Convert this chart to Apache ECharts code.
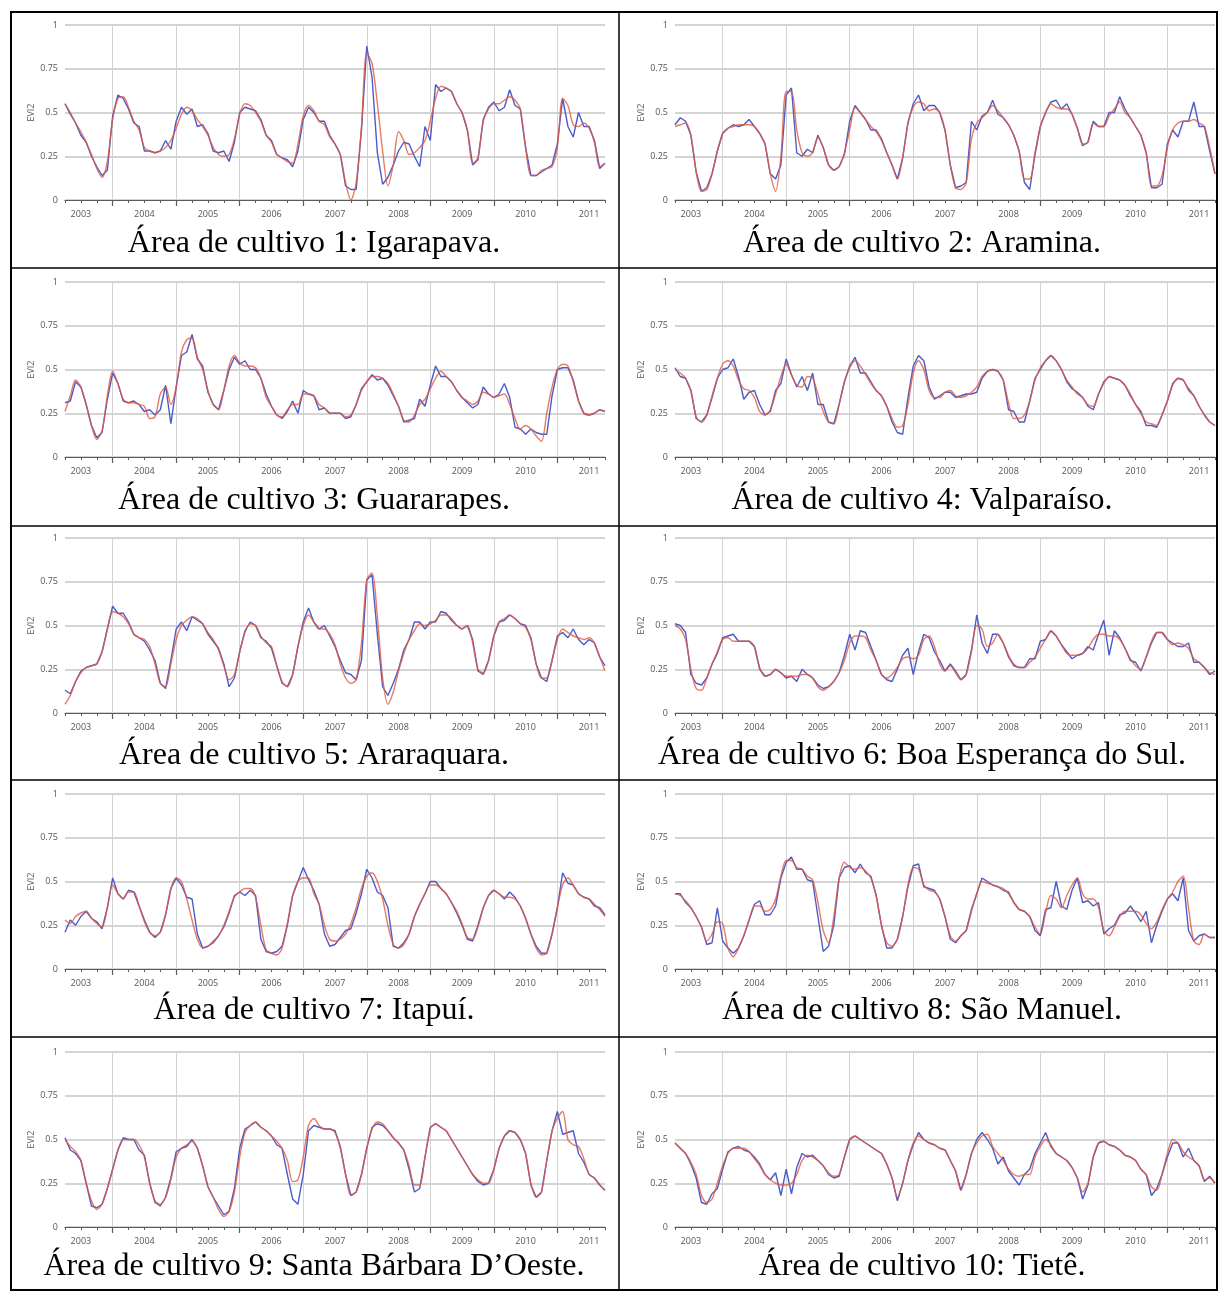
<!DOCTYPE html>
<html>
<head>
<meta charset="utf-8">
<title>EVI2 - áreas de cultivo</title>
<script src="https://cdn.jsdelivr.net/npm/echarts@6/dist/echarts.min.js"></script>
<style>
  html, body { margin: 0; padding: 0; background: #fff; }
  #chart { width: 1219px; height: 1291px; }
</style>
</head>
<body>
<div id="chart"></div>
<script>
// eixo do tempo: meses de abr/2003 a out/2011
const years = [2003, 2004, 2005, 2006, 2007, 2008, 2009, 2010, 2011];
const months = [];
years.forEach(y => {
  for (let m = 1; m <= 12; m++) {
    if (y === 2003 && m < 4) continue;
    if (y === 2011 && m > 10) continue;
    months.push(y + '-' + String(m).padStart(2, '0'));
  }
});

// EVI2 por área (azul = série original, vermelho = série suavizada)
const igarapavaBlue = [
  0.55, 0.49, 0.44, 0.37, 0.33, 0.25, 0.19, 0.14, 0.17,
  0.48, 0.60, 0.58, 0.52, 0.44, 0.42, 0.28, 0.28, 0.27, 0.28, 0.34, 0.29,
  0.45, 0.53, 0.49, 0.52, 0.42, 0.43, 0.38, 0.28, 0.27, 0.28, 0.22, 0.33,
  0.50, 0.53, 0.52, 0.51, 0.46, 0.37, 0.34, 0.26, 0.24, 0.23, 0.19, 0.28,
  0.46, 0.53, 0.50, 0.45, 0.45, 0.37, 0.32, 0.26, 0.08, 0.06, 0.06, 0.40,
  0.88, 0.70, 0.27, 0.09, 0.13, 0.20, 0.28, 0.33, 0.32, 0.25, 0.19, 0.42,
  0.34, 0.66, 0.62, 0.64, 0.62, 0.55, 0.50, 0.40, 0.20, 0.23, 0.46, 0.53,
  0.56, 0.51, 0.53, 0.63, 0.54, 0.52, 0.30, 0.14, 0.14, 0.16, 0.18, 0.20,
  0.32, 0.58, 0.42, 0.36, 0.50, 0.42, 0.42, 0.34, 0.18, 0.21
];
const igarapavaRed = [
  0.55, 0.50, 0.44, 0.39, 0.33, 0.26, 0.18, 0.13, 0.22,
  0.46, 0.58, 0.59, 0.53, 0.45, 0.40, 0.30, 0.28, 0.27, 0.28, 0.30, 0.34,
  0.41, 0.49, 0.53, 0.51, 0.46, 0.42, 0.37, 0.30, 0.26, 0.25, 0.26, 0.35,
  0.49, 0.55, 0.54, 0.50, 0.45, 0.37, 0.33, 0.26, 0.24, 0.22, 0.21, 0.32,
  0.48, 0.54, 0.51, 0.45, 0.43, 0.36, 0.32, 0.26, 0.10, 0.00, 0.10, 0.42,
  0.84, 0.78, 0.55, 0.28, 0.08, 0.20, 0.39, 0.34, 0.26, 0.27, 0.30, 0.34,
  0.45, 0.58, 0.65, 0.64, 0.62, 0.55, 0.50, 0.40, 0.21, 0.24, 0.45, 0.52,
  0.55, 0.55, 0.57, 0.59, 0.57, 0.52, 0.30, 0.14, 0.14, 0.17, 0.18, 0.19,
  0.30, 0.58, 0.54, 0.43, 0.42, 0.44, 0.41, 0.33, 0.19, 0.21
];
const araminaBlue = [
  0.43, 0.47, 0.45, 0.37, 0.16, 0.05, 0.07, 0.15, 0.28,
  0.38, 0.41, 0.43, 0.42, 0.43, 0.46, 0.42, 0.38, 0.32, 0.15, 0.12, 0.20,
  0.60, 0.64, 0.27, 0.25, 0.29, 0.27, 0.37, 0.30, 0.20, 0.17, 0.19, 0.26,
  0.45, 0.54, 0.50, 0.46, 0.40, 0.40, 0.35, 0.27, 0.20, 0.12, 0.24, 0.44,
  0.55, 0.60, 0.51, 0.54, 0.54, 0.50, 0.40, 0.20, 0.07, 0.08, 0.10, 0.45,
  0.40, 0.48, 0.50, 0.57, 0.49, 0.47, 0.43, 0.37, 0.28, 0.10, 0.06, 0.26,
  0.42, 0.50, 0.56, 0.57, 0.52, 0.55, 0.49, 0.41, 0.31, 0.33, 0.45, 0.42,
  0.42, 0.50, 0.50, 0.59, 0.52, 0.47, 0.42, 0.37, 0.27, 0.07, 0.07, 0.09,
  0.32, 0.40, 0.36, 0.45, 0.45, 0.56, 0.42, 0.42, 0.28, 0.15
];
const araminaRed = [
  0.42, 0.43, 0.44, 0.37, 0.16, 0.05, 0.06, 0.15, 0.28,
  0.38, 0.41, 0.42, 0.43, 0.43, 0.43, 0.42, 0.38, 0.32, 0.15, 0.05, 0.25,
  0.62, 0.62, 0.40, 0.27, 0.25, 0.27, 0.36, 0.30, 0.20, 0.17, 0.19, 0.27,
  0.40, 0.53, 0.50, 0.46, 0.42, 0.39, 0.34, 0.27, 0.20, 0.12, 0.24, 0.44,
  0.53, 0.56, 0.55, 0.51, 0.52, 0.50, 0.40, 0.20, 0.07, 0.06, 0.10, 0.35,
  0.44, 0.47, 0.50, 0.54, 0.51, 0.47, 0.43, 0.37, 0.28, 0.12, 0.12, 0.27,
  0.42, 0.50, 0.55, 0.53, 0.52, 0.52, 0.49, 0.41, 0.32, 0.33, 0.44, 0.42,
  0.42, 0.48, 0.52, 0.56, 0.50, 0.47, 0.42, 0.37, 0.27, 0.08, 0.08, 0.14,
  0.30, 0.40, 0.44, 0.45, 0.45, 0.46, 0.44, 0.42, 0.30, 0.15
];
const guararapesBlue = [
  0.31, 0.32, 0.43, 0.40, 0.30, 0.18, 0.11, 0.14, 0.33,
  0.48, 0.42, 0.32, 0.31, 0.32, 0.30, 0.26, 0.27, 0.24, 0.27, 0.41, 0.19,
  0.40, 0.58, 0.60, 0.70, 0.56, 0.52, 0.37, 0.30, 0.27, 0.38, 0.50, 0.57,
  0.53, 0.55, 0.50, 0.50, 0.45, 0.36, 0.29, 0.24, 0.22, 0.26, 0.32, 0.25,
  0.38, 0.36, 0.35, 0.27, 0.28, 0.25, 0.25, 0.25, 0.22, 0.23, 0.30, 0.39,
  0.43, 0.47, 0.44, 0.45, 0.41, 0.35, 0.29, 0.20, 0.21, 0.22, 0.33, 0.29,
  0.41, 0.52, 0.46, 0.46, 0.43, 0.38, 0.34, 0.31, 0.28, 0.30, 0.40, 0.36,
  0.34, 0.36, 0.42, 0.34, 0.17, 0.16, 0.13, 0.16, 0.14, 0.13, 0.13, 0.35,
  0.50, 0.51, 0.51, 0.44, 0.32, 0.25, 0.24, 0.25, 0.27, 0.26
];
const guararapesRed = [
  0.26, 0.35, 0.44, 0.40, 0.30, 0.18, 0.10, 0.15, 0.35,
  0.49, 0.42, 0.33, 0.31, 0.31, 0.30, 0.29, 0.22, 0.23, 0.36, 0.40, 0.30,
  0.40, 0.60, 0.67, 0.68, 0.57, 0.50, 0.38, 0.30, 0.27, 0.38, 0.52, 0.58,
  0.54, 0.52, 0.52, 0.51, 0.45, 0.34, 0.29, 0.24, 0.23, 0.27, 0.30, 0.30,
  0.36, 0.36, 0.35, 0.30, 0.28, 0.25, 0.25, 0.25, 0.23, 0.24, 0.30, 0.38,
  0.43, 0.46, 0.46, 0.45, 0.42, 0.36, 0.29, 0.21, 0.20, 0.24, 0.30, 0.33,
  0.39, 0.45, 0.49, 0.46, 0.43, 0.38, 0.34, 0.32, 0.30, 0.32, 0.37, 0.36,
  0.34, 0.35, 0.36, 0.30, 0.22, 0.16, 0.18, 0.16, 0.12, 0.09, 0.25, 0.40,
  0.50, 0.53, 0.52, 0.43, 0.32, 0.25, 0.24, 0.25, 0.27, 0.26
];
const valparaisoBlue = [
  0.51, 0.46, 0.45, 0.38, 0.22, 0.20, 0.24, 0.34, 0.45,
  0.50, 0.51, 0.56, 0.46, 0.33, 0.37, 0.38, 0.30, 0.24, 0.26, 0.38, 0.42,
  0.56, 0.47, 0.40, 0.46, 0.38, 0.48, 0.30, 0.30, 0.20, 0.19, 0.30, 0.43,
  0.52, 0.57, 0.48, 0.48, 0.43, 0.38, 0.35, 0.29, 0.20, 0.14, 0.13, 0.34,
  0.52, 0.58, 0.55, 0.40, 0.33, 0.35, 0.37, 0.37, 0.34, 0.35, 0.36, 0.36,
  0.37, 0.45, 0.49, 0.50, 0.49, 0.44, 0.27, 0.26, 0.20, 0.20, 0.32, 0.45,
  0.50, 0.55, 0.58, 0.55, 0.50, 0.43, 0.39, 0.37, 0.34, 0.29, 0.27, 0.36,
  0.43, 0.46, 0.45, 0.44, 0.41, 0.35, 0.30, 0.26, 0.18, 0.18, 0.17, 0.24,
  0.32, 0.42, 0.45, 0.44, 0.39, 0.35, 0.29, 0.24, 0.20, 0.18
];
const valparaisoRed = [
  0.50, 0.48, 0.45, 0.38, 0.23, 0.20, 0.24, 0.35, 0.45,
  0.53, 0.55, 0.52, 0.44, 0.39, 0.38, 0.34, 0.26, 0.24, 0.27, 0.36, 0.46,
  0.53, 0.47, 0.41, 0.40, 0.46, 0.45, 0.36, 0.26, 0.20, 0.19, 0.30, 0.43,
  0.51, 0.55, 0.52, 0.47, 0.42, 0.38, 0.35, 0.29, 0.22, 0.17, 0.18, 0.30,
  0.48, 0.55, 0.50, 0.38, 0.34, 0.34, 0.37, 0.38, 0.35, 0.34, 0.35, 0.37,
  0.40, 0.46, 0.49, 0.50, 0.49, 0.44, 0.31, 0.22, 0.22, 0.24, 0.32, 0.44,
  0.51, 0.55, 0.58, 0.55, 0.50, 0.44, 0.40, 0.36, 0.34, 0.30, 0.29, 0.36,
  0.42, 0.46, 0.45, 0.44, 0.41, 0.36, 0.30, 0.25, 0.20, 0.19, 0.18, 0.24,
  0.32, 0.41, 0.45, 0.44, 0.38, 0.35, 0.29, 0.24, 0.20, 0.18
];
const araraquaraBlue = [
  0.13, 0.11, 0.18, 0.24, 0.26, 0.27, 0.28, 0.35, 0.48,
  0.61, 0.57, 0.57, 0.52, 0.45, 0.43, 0.41, 0.36, 0.30, 0.17, 0.14, 0.30,
  0.48, 0.52, 0.47, 0.55, 0.53, 0.51, 0.45, 0.41, 0.37, 0.28, 0.15, 0.20,
  0.35, 0.47, 0.52, 0.50, 0.43, 0.41, 0.37, 0.27, 0.17, 0.15, 0.22, 0.38,
  0.52, 0.60, 0.52, 0.48, 0.50, 0.44, 0.38, 0.30, 0.23, 0.22, 0.19, 0.30,
  0.76, 0.79, 0.45, 0.15, 0.10, 0.17, 0.25, 0.36, 0.42, 0.52, 0.52, 0.48,
  0.52, 0.52, 0.58, 0.57, 0.53, 0.50, 0.48, 0.50, 0.42, 0.24, 0.22, 0.30,
  0.44, 0.52, 0.53, 0.56, 0.54, 0.51, 0.50, 0.43, 0.28, 0.20, 0.18, 0.30,
  0.44, 0.46, 0.43, 0.48, 0.42, 0.39, 0.42, 0.40, 0.32, 0.27
];
const araraquaraRed = [
  0.05, 0.10, 0.18, 0.23, 0.26, 0.27, 0.28, 0.35, 0.48,
  0.58, 0.57, 0.55, 0.51, 0.45, 0.43, 0.42, 0.38, 0.28, 0.17, 0.15, 0.28,
  0.42, 0.50, 0.53, 0.55, 0.54, 0.51, 0.46, 0.42, 0.36, 0.27, 0.19, 0.22,
  0.35, 0.46, 0.51, 0.50, 0.44, 0.40, 0.38, 0.27, 0.18, 0.15, 0.22, 0.38,
  0.50, 0.56, 0.52, 0.48, 0.48, 0.45, 0.39, 0.28, 0.20, 0.17, 0.19, 0.40,
  0.76, 0.80, 0.55, 0.20, 0.05, 0.12, 0.24, 0.34, 0.42, 0.47, 0.51, 0.50,
  0.51, 0.53, 0.56, 0.56, 0.54, 0.50, 0.48, 0.50, 0.40, 0.25, 0.23, 0.30,
  0.44, 0.52, 0.54, 0.56, 0.54, 0.51, 0.49, 0.42, 0.28, 0.20, 0.20, 0.30,
  0.42, 0.48, 0.46, 0.44, 0.43, 0.42, 0.43, 0.40, 0.32, 0.24
];
const boaEsperancaBlue = [
  0.51, 0.50, 0.46, 0.22, 0.17, 0.16, 0.20, 0.28, 0.34,
  0.43, 0.44, 0.45, 0.41, 0.41, 0.41, 0.38, 0.25, 0.21, 0.22, 0.25, 0.23,
  0.20, 0.21, 0.18, 0.25, 0.22, 0.20, 0.16, 0.14, 0.15, 0.18, 0.23, 0.33,
  0.45, 0.36, 0.47, 0.46, 0.38, 0.30, 0.22, 0.19, 0.18, 0.25, 0.33, 0.37,
  0.22, 0.35, 0.45, 0.43, 0.35, 0.30, 0.24, 0.28, 0.24, 0.19, 0.22, 0.36,
  0.56, 0.40, 0.34, 0.45, 0.45, 0.40, 0.32, 0.27, 0.26, 0.26, 0.31, 0.31,
  0.41, 0.42, 0.47, 0.44, 0.39, 0.35, 0.31, 0.33, 0.34, 0.38, 0.36, 0.45,
  0.53, 0.33, 0.47, 0.43, 0.37, 0.30, 0.29, 0.24, 0.32, 0.40, 0.46, 0.46,
  0.42, 0.40, 0.38, 0.38, 0.40, 0.29, 0.29, 0.26, 0.22, 0.24
];
const boaEsperancaRed = [
  0.50, 0.48, 0.42, 0.25, 0.14, 0.13, 0.20, 0.28, 0.35,
  0.42, 0.43, 0.41, 0.41, 0.41, 0.41, 0.38, 0.26, 0.21, 0.22, 0.25, 0.23,
  0.21, 0.21, 0.21, 0.22, 0.22, 0.20, 0.15, 0.13, 0.15, 0.18, 0.23, 0.30,
  0.40, 0.44, 0.44, 0.43, 0.36, 0.30, 0.22, 0.20, 0.22, 0.26, 0.31, 0.32,
  0.31, 0.33, 0.42, 0.44, 0.38, 0.28, 0.24, 0.27, 0.23, 0.19, 0.22, 0.35,
  0.50, 0.48, 0.38, 0.40, 0.45, 0.40, 0.33, 0.28, 0.26, 0.26, 0.29, 0.32,
  0.37, 0.42, 0.47, 0.44, 0.39, 0.34, 0.33, 0.33, 0.34, 0.37, 0.42, 0.45,
  0.45, 0.44, 0.44, 0.42, 0.37, 0.31, 0.27, 0.25, 0.32, 0.41, 0.46, 0.46,
  0.42, 0.39, 0.40, 0.39, 0.37, 0.31, 0.29, 0.26, 0.23, 0.22
];
const itapuiBlue = [
  0.21, 0.28, 0.25, 0.30, 0.33, 0.29, 0.27, 0.23, 0.35,
  0.52, 0.43, 0.40, 0.45, 0.44, 0.36, 0.28, 0.21, 0.18, 0.21, 0.31, 0.46,
  0.52, 0.48, 0.41, 0.40, 0.20, 0.12, 0.13, 0.15, 0.19, 0.24, 0.32, 0.42,
  0.44, 0.42, 0.45, 0.42, 0.17, 0.10, 0.09, 0.10, 0.13, 0.25, 0.42, 0.50,
  0.58, 0.51, 0.45, 0.37, 0.20, 0.13, 0.14, 0.18, 0.22, 0.23, 0.32, 0.43,
  0.57, 0.52, 0.44, 0.42, 0.35, 0.13, 0.12, 0.15, 0.20, 0.30, 0.37, 0.43,
  0.50, 0.50, 0.46, 0.43, 0.38, 0.32, 0.25, 0.17, 0.16, 0.25, 0.35, 0.42,
  0.45, 0.43, 0.40, 0.44, 0.41, 0.36, 0.29, 0.20, 0.13, 0.09, 0.09, 0.20,
  0.35, 0.55, 0.49, 0.48, 0.43, 0.41, 0.40, 0.36, 0.35, 0.31
];
const itapuiRed = [
  0.28, 0.26, 0.30, 0.32, 0.33, 0.29, 0.26, 0.24, 0.35,
  0.48, 0.43, 0.40, 0.44, 0.44, 0.36, 0.27, 0.21, 0.19, 0.21, 0.31, 0.46,
  0.52, 0.50, 0.40, 0.28, 0.17, 0.12, 0.13, 0.16, 0.19, 0.25, 0.33, 0.41,
  0.44, 0.46, 0.46, 0.41, 0.25, 0.11, 0.09, 0.08, 0.12, 0.26, 0.42, 0.50,
  0.52, 0.52, 0.43, 0.37, 0.25, 0.17, 0.16, 0.17, 0.20, 0.26, 0.35, 0.46,
  0.53, 0.55, 0.50, 0.40, 0.25, 0.14, 0.12, 0.14, 0.20, 0.30, 0.37, 0.43,
  0.48, 0.48, 0.46, 0.43, 0.38, 0.33, 0.26, 0.18, 0.17, 0.24, 0.35, 0.42,
  0.45, 0.43, 0.41, 0.41, 0.40, 0.36, 0.29, 0.20, 0.12, 0.08, 0.09, 0.20,
  0.35, 0.48, 0.52, 0.48, 0.43, 0.41, 0.40, 0.37, 0.34, 0.30
];
const saoManuelBlue = [
  0.43, 0.43, 0.38, 0.35, 0.30, 0.24, 0.14, 0.15, 0.35,
  0.16, 0.12, 0.09, 0.12, 0.19, 0.28, 0.37, 0.39, 0.31, 0.31, 0.36, 0.52,
  0.61, 0.64, 0.57, 0.57, 0.51, 0.50, 0.30, 0.10, 0.13, 0.25, 0.52, 0.58,
  0.59, 0.55, 0.60, 0.55, 0.53, 0.42, 0.25, 0.12, 0.12, 0.17, 0.30, 0.47,
  0.59, 0.60, 0.47, 0.46, 0.45, 0.40, 0.30, 0.17, 0.15, 0.19, 0.22, 0.34,
  0.43, 0.52, 0.50, 0.48, 0.47, 0.45, 0.44, 0.38, 0.34, 0.33, 0.30, 0.22,
  0.19, 0.34, 0.35, 0.50, 0.36, 0.34, 0.45, 0.52, 0.38, 0.39, 0.36, 0.38,
  0.20, 0.23, 0.25, 0.31, 0.32, 0.36, 0.32, 0.27, 0.33, 0.15, 0.25, 0.33,
  0.40, 0.43, 0.39, 0.52, 0.22, 0.16, 0.19, 0.20, 0.18, 0.18
];
const saoManuelRed = [
  0.43, 0.42, 0.39, 0.35, 0.30, 0.24, 0.16, 0.20, 0.27,
  0.26, 0.12, 0.07, 0.12, 0.19, 0.28, 0.36, 0.36, 0.33, 0.34, 0.40, 0.53,
  0.62, 0.62, 0.58, 0.57, 0.53, 0.51, 0.38, 0.22, 0.15, 0.30, 0.52, 0.61,
  0.58, 0.57, 0.58, 0.56, 0.52, 0.42, 0.25, 0.15, 0.13, 0.17, 0.30, 0.48,
  0.58, 0.57, 0.48, 0.45, 0.44, 0.40, 0.30, 0.19, 0.16, 0.19, 0.22, 0.33,
  0.43, 0.50, 0.49, 0.48, 0.47, 0.46, 0.43, 0.38, 0.34, 0.33, 0.30, 0.24,
  0.20, 0.32, 0.42, 0.40, 0.35, 0.42, 0.48, 0.52, 0.43, 0.40, 0.40, 0.35,
  0.22, 0.19, 0.24, 0.30, 0.33, 0.33, 0.33, 0.31, 0.26, 0.23, 0.27, 0.34,
  0.40, 0.44, 0.50, 0.53, 0.35, 0.16, 0.14, 0.20, 0.18, 0.18
];
const santaBarbaraBlue = [
  0.51, 0.44, 0.42, 0.38, 0.25, 0.12, 0.11, 0.13, 0.22,
  0.33, 0.44, 0.51, 0.50, 0.50, 0.44, 0.41, 0.25, 0.14, 0.12, 0.17, 0.28,
  0.43, 0.45, 0.46, 0.50, 0.45, 0.35, 0.23, 0.17, 0.12, 0.07, 0.09, 0.22,
  0.45, 0.56, 0.58, 0.60, 0.57, 0.55, 0.52, 0.47, 0.45, 0.30, 0.16, 0.13,
  0.30, 0.55, 0.58, 0.57, 0.56, 0.56, 0.55, 0.46, 0.30, 0.18, 0.20, 0.30,
  0.45, 0.57, 0.59, 0.58, 0.55, 0.51, 0.48, 0.44, 0.33, 0.20, 0.22, 0.40,
  0.57, 0.59, 0.57, 0.55, 0.50, 0.45, 0.40, 0.35, 0.30, 0.26, 0.24, 0.25,
  0.33, 0.45, 0.52, 0.55, 0.54, 0.50, 0.42, 0.24, 0.17, 0.20, 0.38, 0.55,
  0.66, 0.53, 0.54, 0.55, 0.42, 0.37, 0.30, 0.28, 0.24, 0.21
];
const santaBarbaraRed = [
  0.50, 0.46, 0.43, 0.38, 0.25, 0.15, 0.10, 0.13, 0.22,
  0.33, 0.44, 0.50, 0.50, 0.50, 0.47, 0.40, 0.25, 0.15, 0.13, 0.17, 0.27,
  0.40, 0.45, 0.47, 0.49, 0.45, 0.35, 0.23, 0.17, 0.10, 0.06, 0.09, 0.20,
  0.40, 0.54, 0.58, 0.60, 0.57, 0.55, 0.52, 0.49, 0.45, 0.38, 0.26, 0.27,
  0.40, 0.58, 0.62, 0.58, 0.56, 0.56, 0.54, 0.45, 0.30, 0.18, 0.20, 0.30,
  0.45, 0.56, 0.60, 0.59, 0.55, 0.51, 0.48, 0.44, 0.35, 0.24, 0.24, 0.40,
  0.56, 0.59, 0.57, 0.55, 0.50, 0.45, 0.40, 0.35, 0.30, 0.27, 0.25, 0.25,
  0.33, 0.45, 0.52, 0.55, 0.54, 0.50, 0.42, 0.25, 0.17, 0.20, 0.38, 0.55,
  0.62, 0.66, 0.50, 0.47, 0.46, 0.39, 0.30, 0.28, 0.24, 0.21
];
const tieteBlue = [
  0.48, 0.45, 0.42, 0.36, 0.28, 0.14, 0.13, 0.19, 0.22,
  0.33, 0.43, 0.45, 0.46, 0.44, 0.43, 0.40, 0.36, 0.30, 0.27, 0.31, 0.18,
  0.33, 0.19, 0.34, 0.42, 0.40, 0.41, 0.38, 0.35, 0.30, 0.28, 0.29, 0.40,
  0.50, 0.52, 0.50, 0.48, 0.46, 0.44, 0.42, 0.36, 0.28, 0.15, 0.25, 0.38,
  0.47, 0.54, 0.50, 0.48, 0.47, 0.45, 0.44, 0.38, 0.32, 0.21, 0.30, 0.42,
  0.50, 0.54, 0.50, 0.45, 0.36, 0.40, 0.32, 0.28, 0.24, 0.30, 0.33, 0.42,
  0.48, 0.54, 0.46, 0.42, 0.40, 0.38, 0.34, 0.28, 0.16, 0.24, 0.40, 0.48,
  0.49, 0.47, 0.46, 0.44, 0.41, 0.40, 0.38, 0.33, 0.30, 0.18, 0.22, 0.30,
  0.40, 0.48, 0.48, 0.40, 0.45, 0.38, 0.35, 0.26, 0.29, 0.25
];
const tieteRed = [
  0.48, 0.45, 0.42, 0.37, 0.30, 0.18, 0.14, 0.16, 0.25,
  0.35, 0.42, 0.45, 0.45, 0.45, 0.43, 0.39, 0.35, 0.30, 0.27, 0.25, 0.24,
  0.24, 0.25, 0.30, 0.38, 0.41, 0.40, 0.38, 0.35, 0.31, 0.29, 0.30, 0.40,
  0.50, 0.52, 0.50, 0.48, 0.46, 0.44, 0.42, 0.36, 0.28, 0.17, 0.25, 0.38,
  0.48, 0.52, 0.50, 0.48, 0.47, 0.45, 0.44, 0.38, 0.32, 0.21, 0.30, 0.42,
  0.48, 0.52, 0.53, 0.46, 0.42, 0.38, 0.33, 0.30, 0.29, 0.30, 0.30, 0.40,
  0.46, 0.50, 0.47, 0.42, 0.40, 0.38, 0.34, 0.28, 0.20, 0.25, 0.40, 0.48,
  0.49, 0.47, 0.46, 0.44, 0.41, 0.40, 0.38, 0.33, 0.30, 0.23, 0.21, 0.30,
  0.42, 0.50, 0.48, 0.43, 0.40, 0.38, 0.35, 0.27, 0.28, 0.25
];

const captions = [
  'Área de cultivo 1: Igarapava.',
  'Área de cultivo 2: Aramina.',
  'Área de cultivo 3: Guararapes.',
  'Área de cultivo 4: Valparaíso.',
  'Área de cultivo 5: Araraquara.',
  'Área de cultivo 6: Boa Esperança do Sul.',
  'Área de cultivo 7: Itapuí.',
  'Área de cultivo 8: São Manuel.',
  'Área de cultivo 9: Santa Bárbara D’Oeste.',
  'Área de cultivo 10: Tietê.'
];
const blueSeries = [igarapavaBlue, araminaBlue, guararapesBlue, valparaisoBlue, araraquaraBlue,
  boaEsperancaBlue, itapuiBlue, saoManuelBlue, santaBarbaraBlue, tieteBlue];
const redSeries = [igarapavaRed, araminaRed, guararapesRed, valparaisoRed, araraquaraRed,
  boaEsperancaRed, itapuiRed, saoManuelRed, santaBarbaraRed, tieteRed];

// layout da tabela
const colPlotLeft = [65, 675];
const plotWidth = 540;
const rowPlotTop = [25, 282, 538, 794, 1052];
const plotHeight = 175;
const captionCenterY = [245, 502, 757, 1012, 1268];
const colCenterX = [314, 922];
const rowLines = [268, 526, 780, 1037];

const BLUE = '#4b5bc8';
const RED = '#e2583e';
const axisFont = 'Open Sans, DejaVu Sans, sans-serif';

const grid = [], xAxis = [], yAxis = [], series = [], title = [];

captions.forEach((cap, i) => {
  const row = Math.floor(i / 2), col = i % 2;
  grid.push({ left: colPlotLeft[col], top: rowPlotTop[row], width: plotWidth, height: plotHeight });

  // eixo principal: linha, ticks anuais, rótulos e grade vertical
  xAxis.push({
    type: 'category', gridIndex: i, data: months, boundaryGap: false, position: 'bottom',
    axisLine: { lineStyle: { color: '#5a5a5a', width: 1.2 } },
    axisTick: { length: 6, interval: (idx, v) => v.endsWith('-01'), lineStyle: { color: '#5a5a5a', width: 1.2 } },
    axisLabel: {
      interval: (idx, v) => v.endsWith('-07'), formatter: v => v.slice(0, 4),
      fontSize: 9, color: '#555', margin: 10, fontFamily: axisFont
    },
    splitLine: { show: true, interval: (idx, v) => v.endsWith('-01'), lineStyle: { color: '#d2d2d2', width: 1 } }
  });
  // eixo auxiliar: ticks trimestrais
  xAxis.push({
    type: 'category', gridIndex: i, data: months, boundaryGap: false, position: 'bottom',
    axisLine: { show: false },
    axisTick: { length: 3, interval: (idx, v) => /-(04|07|10)$/.test(v), lineStyle: { color: '#5a5a5a', width: 1 } },
    axisLabel: { show: false },
    splitLine: { show: false }
  });
  yAxis.push({
    type: 'value', gridIndex: i, min: 0, max: 1, interval: 0.25,
    name: 'EVI2', nameLocation: 'middle', nameGap: 22,
    nameTextStyle: { fontSize: 9, color: '#555', fontFamily: axisFont },
    axisLine: { show: false }, axisTick: { show: false },
    axisLabel: { fontSize: 9, color: '#555', margin: 7, fontFamily: axisFont },
    splitLine: { lineStyle: { color: '#c6c6c6', width: 1.5 } }
  });
  series.push({
    type: 'line', xAxisIndex: 2 * i, yAxisIndex: i, data: blueSeries[i],
    showSymbol: false, lineStyle: { color: BLUE, width: 1.4 }, z: 3
  });
  series.push({
    type: 'line', xAxisIndex: 2 * i, yAxisIndex: i, data: redSeries[i], smooth: 0.3,
    showSymbol: false, lineStyle: { color: RED, width: 1.4, opacity: 0.8 }, z: 4
  });
  title.push({
    text: cap, left: colCenterX[col], top: captionCenterY[row] - 17, textAlign: 'center', padding: 0,
    textStyle: { fontFamily: 'Liberation Serif, Times New Roman, serif', fontSize: 32, fontWeight: 'normal', color: '#000' }
  });
});

// bordas da tabela
const graphic = [
  { type: 'rect', shape: { x: 11, y: 12, width: 1206, height: 1278 }, style: { fill: 'none', stroke: '#000', lineWidth: 2 }, silent: true },
  { type: 'line', shape: { x1: 619, y1: 12, x2: 619, y2: 1290 }, style: { stroke: '#000', lineWidth: 1.5 }, silent: true }
];
rowLines.forEach(y => {
  graphic.push({ type: 'line', shape: { x1: 11, y1: y, x2: 1217, y2: y }, style: { stroke: '#000', lineWidth: 1.5 }, silent: true });
});

const chart = echarts.init(document.getElementById('chart'));
chart.setOption({
  animation: false,
  backgroundColor: '#fff',
  title, grid, xAxis, yAxis, series, graphic
});
</script>
</body>
</html>
